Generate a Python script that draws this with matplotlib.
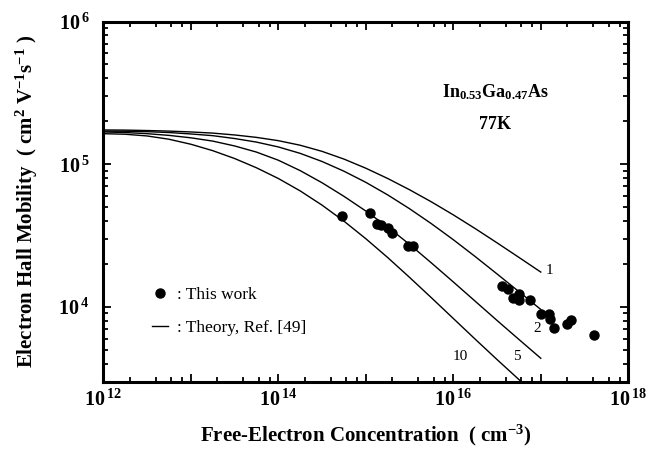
import matplotlib
matplotlib.use('Agg')
import matplotlib.pyplot as plt
from matplotlib.ticker import LogLocator, NullFormatter
from matplotlib.lines import Line2D
import numpy as np

# theory curves (Ref. [49]) for compensation ratios 1, 2, 5, 10
# stored as log10 of concentration (cm^-3) and log10 of mobility (cm^2/Vs)
log_n = [12.0, 12.25, 12.5, 12.75, 13.0, 13.25, 13.5, 13.75, 14.0, 14.25, 14.5,
         14.75, 15.0, 15.25, 15.5, 15.75, 16.0, 16.25, 16.5, 16.75, 17.0]
log_mu_1 = [5.240, 5.239, 5.236, 5.232, 5.226, 5.218, 5.205, 5.188, 5.165, 5.133, 5.090,
            5.036, 4.972, 4.900, 4.821, 4.736, 4.645, 4.549, 4.449, 4.347, 4.244]
log_mu_2 = [5.232, 5.231, 5.228, 5.222, 5.212, 5.200, 5.180, 5.155, 5.121, 5.076, 5.019,
            4.951, 4.873, 4.785, 4.688, 4.583, 4.471, 4.353, 4.231, 4.107, 3.982]
log_mu_5 = [5.226, 5.222, 5.214, 5.202, 5.185, 5.162, 5.128, 5.085, 5.028, 4.955, 4.870,
            4.775, 4.672, 4.560, 4.438, 4.308, 4.175, 4.040, 3.905, 3.772, 3.640]
log_mu_10 = [5.214, 5.210, 5.198, 5.175, 5.140, 5.095, 5.040, 4.975, 4.900, 4.813, 4.713,
             4.601, 4.478, 4.346, 4.207, 4.064, 3.919, 3.774, 3.631, 3.491, 3.353]
curve_labels = ['1', '2', '5', '10']
label_x = [1.27e17, 9.06e16, 5.35e16, 1.19e16]
label_y = [1.80e4, 7.08e3, 4.51e3, 4.51e3]

# measured points (this work)
data_n = [5.31e14, 1.117e15, 1.343e15, 1.49e15, 1.81e15, 1.98e15, 3.06e15, 3.49e15,
          3.61e16, 4.25e16, 4.77e16, 5.57e16, 5.57e16, 7.45e16, 9.98e16, 1.23e17,
          1.27e17, 1.43e17, 1.98e17, 2.21e17, 4.01e17]
data_mu = [4.36e4, 4.56e4, 3.78e4, 3.74e4, 3.58e4, 3.30e4, 2.69e4, 2.69e4,
           1.40e4, 1.33e4, 1.16e4, 1.24e4, 1.12e4, 1.12e4, 8.87e3, 8.87e3,
           8.22e3, 7.11e3, 7.64e3, 8.13e3, 6.38e3]

x_ticks = [1e12, 1e13, 1e14, 1e15, 1e16, 1e17, 1e18]
x_ticklabels = [r'$10^{\,12}$', '', r'$10^{\,14}$', '', r'$10^{\,16}$', '', r'$10^{\,18}$']
y_ticks = [1e4, 1e5, 1e6]
y_ticklabels = [r'$10^{\,4}$', r'$10^{\,5}$', r'$10^{\,6}$']

plt.rcParams['font.family'] = 'Liberation Serif'
plt.rcParams['mathtext.fontset'] = 'custom'
plt.rcParams['mathtext.rm'] = 'Liberation Serif:bold'
plt.rcParams['mathtext.it'] = 'Liberation Serif:bold'
plt.rcParams['mathtext.bf'] = 'Liberation Serif:bold'

fig = plt.figure(figsize=(6.61, 4.49), dpi=100)
ax = fig.add_axes([0.1563, 0.1503, 0.7942, 0.8018])

conc = 10 ** np.array(log_n)
for log_mu in [log_mu_1, log_mu_2, log_mu_5, log_mu_10]:
    ax.plot(conc, 10 ** np.array(log_mu), color='black', lw=1.0)
ax.plot(data_n, data_mu, 'o', color='black', ms=6.5)

for lab, lx, ly in zip(curve_labels, label_x, label_y):
    ax.text(lx, ly, lab, fontsize=11, ha='center', va='center')

ax.set_xscale('log')
ax.set_yscale('log')
ax.set_xlim(1e12, 1e18)
ax.set_ylim(3e3, 1e6)

ax.set_xticks(x_ticks)
ax.set_xticklabels(x_ticklabels)
ax.set_yticks(y_ticks)
ax.set_yticklabels(y_ticklabels)
ax.xaxis.set_minor_locator(LogLocator(base=10, subs=(2, 4, 6, 8), numticks=20))
ax.xaxis.set_minor_formatter(NullFormatter())
ax.yaxis.set_minor_locator(LogLocator(base=10, subs=np.arange(2, 10), numticks=20))
ax.yaxis.set_minor_formatter(NullFormatter())

ax.tick_params(which='both', direction='in', top=True, right=True, width=1.3, labelsize=14.5)
ax.tick_params(which='major', length=6)
ax.tick_params(which='minor', length=3.6)
ax.tick_params(axis='x', pad=6)
ax.tick_params(axis='y', pad=10)
for sp in ax.spines.values():
    sp.set_linewidth(2.2)

ax.set_xlabel(r'Free-Electron Concentration  ( cm$^{-3}$)', fontsize=15, fontweight='bold')
ax.set_ylabel(r'Electron Hall Mobility  ( cm$^{2}$ V$^{-1}$s$^{-1}$ )', fontsize=15, fontweight='bold')
ax.xaxis.set_label_coords(0.5, -0.115)
ax.yaxis.set_label_coords(-0.12, 0.5)

ax.text(0.746, 0.805, r'In$_{0.53}$Ga$_{0.47}$As', transform=ax.transAxes,
        fontsize=13, fontweight='bold', ha='center', va='center')
ax.text(0.746, 0.713, '77K', transform=ax.transAxes,
        fontsize=13, fontweight='bold', ha='center', va='center')

handles = [Line2D([], [], ls='none', marker='o', color='black', ms=6.5),
           Line2D([], [], color='black', lw=1.0)]
ax.legend(handles, [': This work', ': Theory, Ref. [49]'], loc='upper left',
          bbox_to_anchor=(0.093, 0.262), frameon=False, fontsize=12.5,
          handlelength=0.9, handletextpad=0.55, labelspacing=0.95,
          borderpad=0, borderaxespad=0)

fig.savefig('out.png', dpi=100)
